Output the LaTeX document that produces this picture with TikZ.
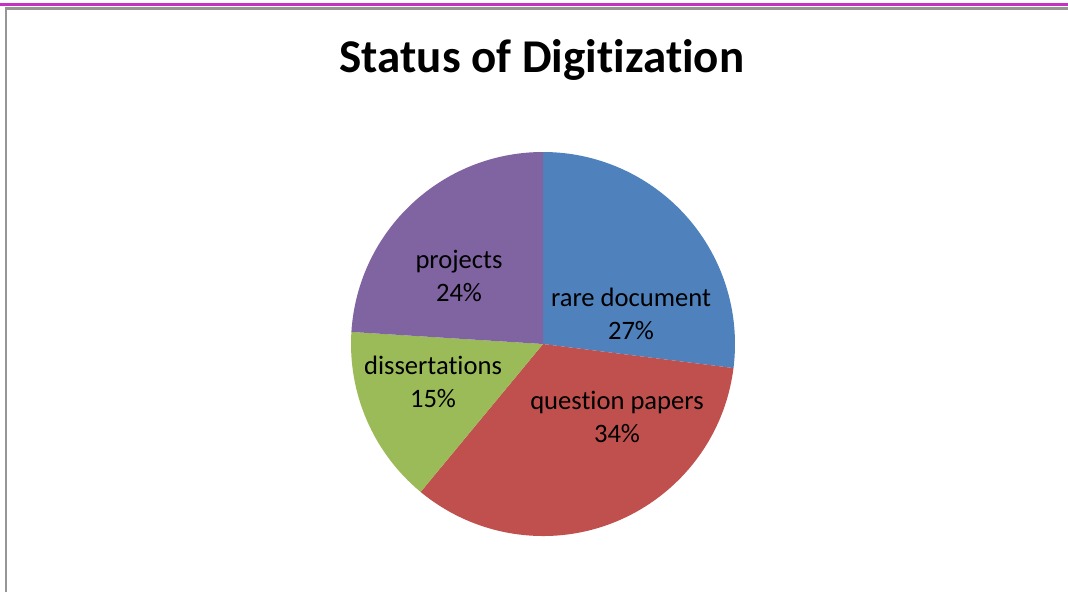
\documentclass[tikz,border=0pt]{standalone}
\usepackage{fontspec}
\setmainfont{Carlito}[Ligatures=NoCommon]
\definecolor{rareblue}{RGB}{79,129,189}
\definecolor{questred}{RGB}{192,80,77}
\definecolor{dissgreen}{RGB}{155,187,89}
\definecolor{projpurple}{RGB}{128,100,162}
\definecolor{framegray}{RGB}{150,150,150}
\definecolor{rulemagenta}{RGB}{196,50,196}
\tikzset{every picture/.style={line width=0.75pt}}
\tikzset{slicelabel/.style={align=center,font=\fontsize{26.6}{33}\selectfont,inner sep=0pt}}
\begin{document}
\begin{tikzpicture}[x=1pt,y=1pt,yscale=-1,xscale=1]
	\useasboundingbox (0,0) rectangle (1068,592);

	%Straight Lines [id:rule] 
	\draw [color=rulemagenta, line width=3pt]   (0,4.5) -- (1068,4.5) ;
	%Shape: Frame [id:frame] 
	\draw [color=framegray, line width=2.8pt]   (6,592) -- (6,8.8) -- (1068,8.8) ;

	\coordinate (centre) at (543,344);
	%Shape: Slice [id:rare] 
	\fill [rareblue]   (centre) -- ++(-90:192) arc (-90:7.2:192) -- cycle ;
	%Shape: Slice [id:question] 
	\fill [questred]   (centre) -- ++(7.2:192) arc (7.2:129.6:192) -- cycle ;
	%Shape: Slice [id:dissertations] 
	\fill [dissgreen]   (centre) -- ++(129.6:192) arc (129.6:183.6:192) -- cycle ;
	%Shape: Slice [id:projects] 
	\fill [projpurple]   (centre) -- ++(183.6:192) arc (183.6:270:192) -- cycle ;

	% Text Node
	\node (title) at (542,60) {\fontsize{47}{56}\selectfont\bfseries Status of Digitization};
	% Text Node
	\node [slicelabel] (rarelbl) at (631,314) {rare document\\27\%};
	% Text Node
	\node [slicelabel] (questionlbl) at (617,417) {question papers\\34\%};
	% Text Node
	\node [slicelabel] (disslbl) at (433,382) {dissertations\\15\%};
	% Text Node
	\node [slicelabel] (projlbl) at (459,276) {projects\\24\%};

\end{tikzpicture}
\end{document}
